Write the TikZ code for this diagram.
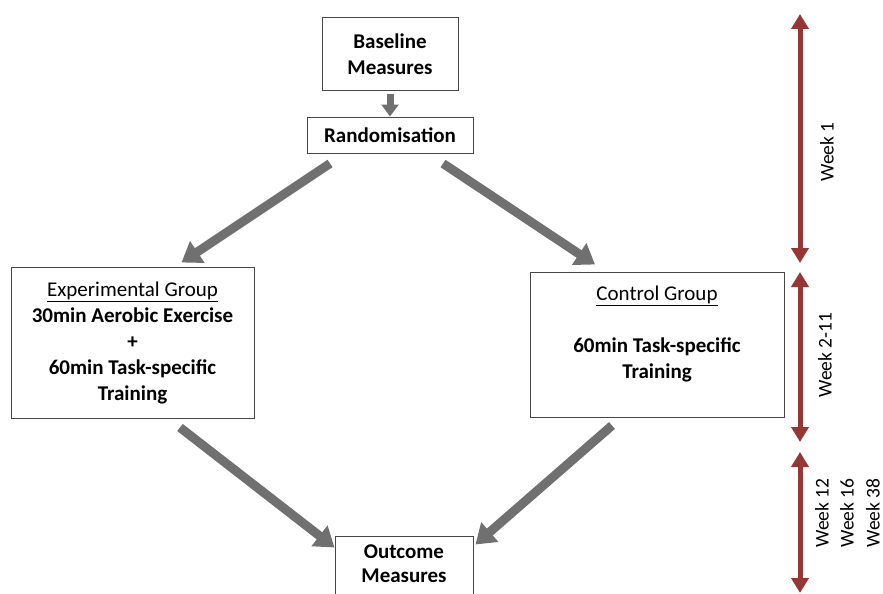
\documentclass[tikz,border=0pt]{standalone}
\usepackage{fontspec}
\setmainfont{Carlito}
\usetikzlibrary{arrows.meta,calc}
\definecolor{arrgray}{RGB}{112,112,112}
\definecolor{weekred}{RGB}{149,55,53}
\definecolor{boxline}{RGB}{70,70,70}
\begin{document}
\begin{tikzpicture}[x=1pt,y=-1pt,
  box/.style={draw=boxline,line width=1pt,fill=white,align=center,inner sep=0pt,
    font=\fontsize{21}{26}\selectfont\bfseries},
  flow/.style={draw=arrgray,line width=9pt,-{Triangle[length=19pt,width=25pt]}},
  smallflow/.style={draw=arrgray,line width=7pt,-{Triangle[length=12pt,width=17pt]}},
  week/.style={draw=weekred,line width=5pt,
    {Triangle[length=15pt,width=17pt]}-{Triangle[length=15pt,width=17pt]}},
  weeklbl/.style={rotate=90,font=\fontsize{19.5}{22}\selectfont,inner sep=0pt}]
\useasboundingbox (0,0) rectangle (883,594);

% boxes
\node[box,minimum width=136pt,minimum height=72pt] (base) at (390,54) {Baseline\\Measures};
\node[box,minimum width=166pt,minimum height=36pt] (rand) at (390,135) {Randomisation};
\node[box,minimum width=243pt,minimum height=151pt] (exp) at (132.5,342.5)
  {{\mdseries\underline{Experimental Group}}\\30min Aerobic Exercise\\+\\60min Task-specific\\Training};
\node[box,minimum width=254pt,minimum height=145pt] (ctrl) at (657,344.5)
  {{\mdseries\underline{Control Group}}\\[26pt]60min Task-specific\\Training\\[-10pt]\strut};
\node[box,minimum width=138pt,minimum height=72pt] (out) at (404,572) {Outcome\\[-2pt]Measures\\[-18pt]\strut};

% flow arrows
\draw[smallflow] ([yshift=-3pt]base.south) -- (rand.north);
\draw[flow] ([xshift=-60pt,yshift=-10pt]rand.south) -- ([xshift=49pt,yshift=4pt]exp.north);
\draw[flow] ([xshift=53pt,yshift=-10pt]rand.south) -- ([xshift=-62pt,yshift=7pt]ctrl.north);
\draw[flow] ([xshift=47.5pt,yshift=-9pt]exp.south) -- ([yshift=-12pt]out.north west);
\draw[flow] ([xshift=-45pt,yshift=-8pt]ctrl.south) -- ([xshift=2pt,yshift=-9pt]out.north east);

% timeline
\coordinate (w1a) at (800,14);
\coordinate (w1b) at (800,263);
\coordinate (w2a) at (800,272);
\coordinate (w2b) at (800,442);
\coordinate (w3a) at (800,452);
\coordinate (w3b) at (800,593);
\draw[week] (w1a) -- (w1b);
\draw[week] (w2a) -- (w2b);
\draw[week] (w3a) -- (w3b);

\node[weeklbl] (l1) at (827,152) {Week 1};
\node[weeklbl] (l2) at (825,355) {Week 2-11};
\node[weeklbl] (l3) at (822,513) {Week 12};
\node[weeklbl] (l4) at (847,513) {Week 16};
\node[weeklbl] (l5) at (873,513) {Week 38};
\end{tikzpicture}
\end{document}
